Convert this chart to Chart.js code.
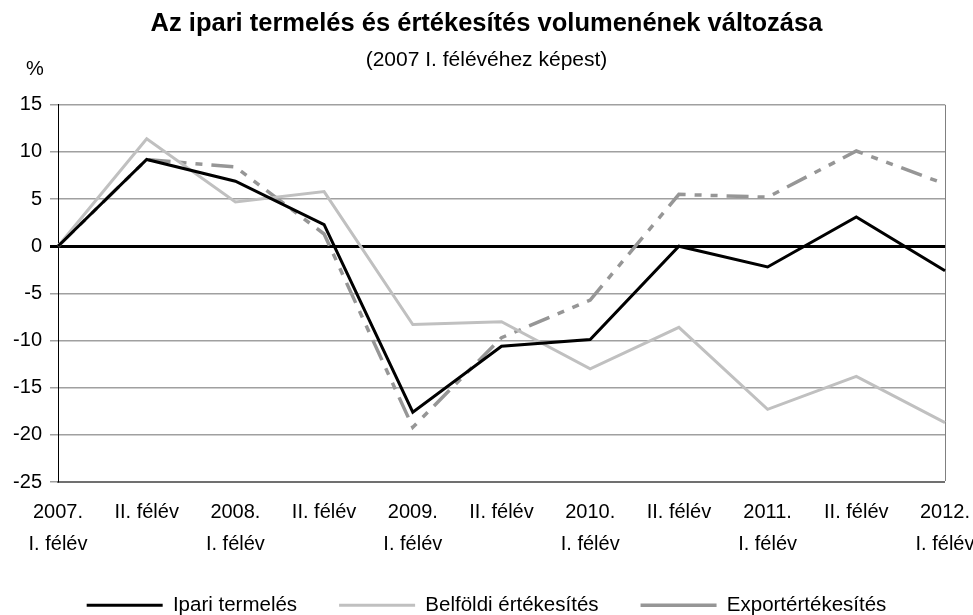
<!DOCTYPE html>
<html>
<head>
<meta charset="utf-8">
<script src="https://cdn.jsdelivr.net/npm/chart.js@4.4.1/dist/chart.umd.min.js"></script>
<style>
  html, body { margin: 0; padding: 0; background: #fff; }
  #wrap { width: 973px; height: 615px; position: relative; }
</style>
</head>
<body>
<div id="wrap"><canvas id="chart"></canvas></div>
<script>
const categories = [
  ["2007.", "I. félév"], ["II. félév", ""], ["2008.", "I. félév"], ["II. félév", ""],
  ["2009.", "I. félév"], ["II. félév", ""], ["2010.", "I. félév"], ["II. félév", ""],
  ["2011.", "I. félév"], ["II. félév", ""], ["2012.", "I. félév"]
];
const ipariTermeles = [0, 9.2, 6.9, 2.3, -17.6, -10.6, -9.9, 0, -2.2, 3.1, -2.6];
const belfoldi = [0, 11.4, 4.7, 5.8, -8.3, -8.0, -13.0, -8.6, -17.3, -13.8, -18.7];
const export_ = [0, 9.2, 8.4, 1.3, -19.2, -9.7, -5.7, 5.5, 5.2, 10.1, 6.6];
const yMin = -25, yMax = 15, yStep = 5;

const FONT = "'Liberation Sans', Arial, sans-serif";
Chart.defaults.font.family = FONT;
Chart.defaults.color = "#000";

// the "%" unit label above the y axis
const percentLabel = {
  id: "percentLabel",
  afterDraw(chart) {
    const ctx = chart.ctx;
    ctx.save();
    ctx.font = "20px " + FONT;
    ctx.fillStyle = "#000";
    ctx.textAlign = "center";
    ctx.textBaseline = "middle";
    ctx.fillText("%", chart.chartArea.left - 23, chart.chartArea.top - 35);
    ctx.restore();
  }
};

new Chart(document.getElementById("chart"), {
  type: "line",
  data: {
    labels: categories,
    datasets: [
      { label: "Ipari termelés", data: ipariTermeles, borderColor: "#000", backgroundColor: "#000", borderWidth: 3 },
      { label: "Belföldi értékesítés", data: belfoldi, borderColor: "#c0c0c0", backgroundColor: "#c0c0c0", borderWidth: 3 },
      { label: "Exportértékesítés", data: export_, borderColor: "#969696", backgroundColor: "#969696", borderWidth: 3.5, borderDash: [22, 9, 7, 9, 7, 9] }
    ]
  },
  options: {
    responsive: true,
    maintainAspectRatio: false,
    animation: false,
    layout: { padding: 0 },
    elements: { point: { radius: 0 }, line: { tension: 0 } },
    plugins: {
      title: { display: true, text: "Az ipari termelés és értékesítés volumenének változása", font: { size: 25.5, weight: "bold", lineHeight: 1.2 }, padding: { top: 9, bottom: 8 }, color: "#000" },
      subtitle: { display: true, text: "(2007 I. félévéhez képest)", font: { size: 21, lineHeight: 1.2 }, padding: { top: 0, bottom: 32 }, color: "#000" },
      legend: {
        position: "bottom",
        maxHeight: 62,
        labels: { usePointStyle: true, pointStyle: "line", pointStyleWidth: 76, padding: 42, boxHeight: 20, font: { size: 20.5 }, color: "#000" }
      },
      tooltip: { enabled: false }
    },
    scales: {
      x: {
        offset: false,
        grid: {
          drawTicks: false,
          color: "#808080",
          lineWidth: (c) => (c.index === categories.length - 1 ? 1 : 0)
        },
        border: { display: true, color: "#707070", width: 2 },
        ticks: { autoSkip: false, maxRotation: 0, padding: 14, font: { size: 20, lineHeight: 1.6 }, color: "#000" },
        afterFit(scale) { scale.paddingRight = 28; scale.paddingLeft = 0; scale.height = 71; }
      },
      y: {
        min: yMin, max: yMax,
        ticks: { stepSize: yStep, padding: 8, font: { size: 20 }, color: "#000" },
        grid: {
          tickLength: 8,
          color: (c) => (c.tick.value === 0 ? "#000" : "#a0a0a0"),
          lineWidth: (c) => (c.tick.value === 0 ? 3 : 1.5)
        },
        border: { display: true, color: "#000", width: 1 },
        afterFit(scale) { scale.width = 58; }
      }
    }
  },
  plugins: [percentLabel]
});
</script>
</body>
</html>
